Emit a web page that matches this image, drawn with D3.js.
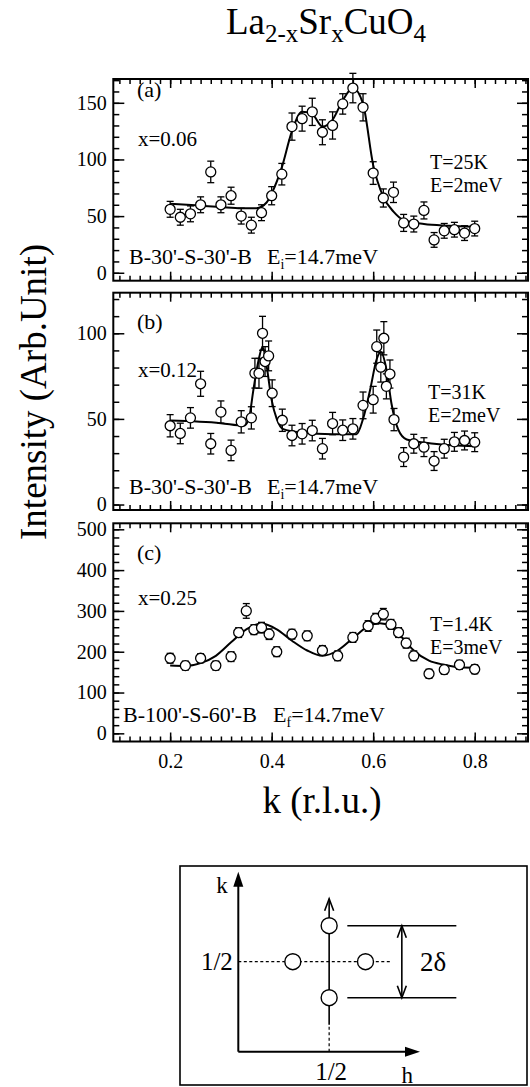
<!DOCTYPE html>
<html>
<head>
<meta charset="utf-8">
<script src="https://cdn.jsdelivr.net/npm/d3@7"></script>
<style>
  html, body { margin: 0; padding: 0; background: #fff; }
  svg { display: block; }
  text { font-family: "Liberation Serif", "Times New Roman", serif; fill: #000; }
</style>
</head>
<body>
<div id="chart"></div>
<script>
/* ── Data ─────────────────────────────────────────────────────────── */
const xTicks = [0.2, 0.4, 0.6, 0.8];

// (a) x=0.06
const kA   = [0.20,0.22,0.24,0.26,0.28,0.30,0.32,0.34,0.36,0.38,0.40,0.42,0.44,0.46,0.48,0.50,
              0.52,0.54,0.56,0.58,0.60,0.62,0.64,0.66,0.68,0.70,0.72,0.74,0.76,0.78,0.80];
const intA = [56,49,52,60,89,60,68,50,42,53,68,87,129,136,142,124,
              130,149,163,146,88,66,71,44,43,55,29,37,38,35,39];
const errA = [7,7,7,7,9.5,7,7.5,7,7,7,8,9.5,12,11,12,11,
              12,9,13,12,10,8,9,7.5,7,7.5,6.5,6.5,6.5,6.5,6.5];
const fitA = [[0.20,61],[0.25,59.5],[0.30,58],[0.34,57],[0.37,57],[0.39,62],[0.40,70],[0.42,93],
              [0.44,125],[0.46,142],[0.48,140],[0.50,129],[0.52,135],[0.54,152],[0.56,163],[0.58,149],
              [0.60,95],[0.62,67],[0.64,54],[0.66,46.5],[0.70,43],[0.75,41.5],[0.80,40.5]];
const yTicksA = [0, 50, 100, 150];

// (b) x=0.12
const kB   = [0.20,0.22,0.24,0.26,0.28,0.30,0.32,0.34,0.36,0.367,0.375,0.382,0.387,0.394,0.401,0.421,
              0.44,0.46,0.48,0.50,0.52,0.54,0.56,0.58,0.60,0.607,0.615,0.621,0.626,0.633,0.641,
              0.66,0.68,0.70,0.72,0.74,0.76,0.78,0.80];
const intB = [46,41.5,50.6,70.5,35.5,54,31.6,48.3,50.6,76.7,76.6,100,83.5,86.8,65,49.2,
              40.3,41.3,43.2,32.6,47.3,43.4,44.2,57.9,61.2,92.2,80.2,97.1,69,76.2,49.6,
              27.7,35.5,33.5,25.4,32.6,36.6,37.4,36.4];
const errB = [6.5,6,6,7.3,6,6.5,6,6.5,6.5,8.7,8.7,9.9,8.7,8.7,7.8,6.5,
              6,6,6,6,6.5,6,6,7.8,7.8,9.7,8.7,9.7,7.3,8.2,6.5,
              5.5,5.5,5.5,5.5,5.5,5.5,5.5,5.5];
const fitB = [[0.20,49],[0.30,47.5],[0.345,46],[0.355,50],[0.364,67],[0.374,84],[0.382,92],[0.390,81],
              [0.400,61],[0.410,50],[0.423,44],[0.46,42],[0.52,41],[0.567,41],[0.580,50],[0.594,67],
              [0.607,85],[0.615,89],[0.626,79],[0.636,59],[0.649,44],[0.666,38],[0.72,35.5],[0.80,34]];
const yTicksB = [0, 50, 100];

// (c) x=0.25
const kC   = [0.20,0.23,0.26,0.29,0.32,0.335,0.35,0.365,0.38,0.395,0.41,0.44,0.47,0.50,
              0.53,0.56,0.59,0.605,0.62,0.635,0.65,0.665,0.68,0.71,0.74,0.77,0.80];
const intC = [184,166,184,166,188,247,300,254,259,243,200,243,239,203,
              190,235,263,281,292,267,247,221,190,146,156,168,157];
const errC = [12,11,11,11,12,12,18,12,13,13,12,12,12,12,
              12,12,13,13,14,12,12,12,12,11,11,11,11];
const fitC = [[0.20,166],[0.23,165],[0.26,172],[0.29,190],[0.32,223],[0.35,255],[0.38,269],[0.41,255],
              [0.44,227],[0.47,203],[0.50,190],[0.53,203],[0.56,233],[0.59,262],[0.613,270],[0.635,262],
              [0.665,223],[0.68,203],[0.71,178],[0.74,168],[0.77,162],[0.80,161]];
const yTicksC = [0, 100, 200, 300, 400, 500];

// texts
const panelLabels  = ["(a)", "(b)", "(c)"];
const concLabels   = ["x=0.06", "x=0.12", "x=0.25"];
const tempLabels   = ["T=25K", "T=31K", "T=1.4K"];
const energyLabels = ["E=2meV", "E=2meV", "E=3meV"];
const configLabels = ["B-30'-S-30'-B", "B-30'-S-30'-B", "B-100'-S-60'-B"];
const eiSubs       = ["i", "i", "f"];
const eiValue      = "=14.7meV";

/* ── SVG & shared x scale ─────────────────────────────────────────── */
const W = 530, H = 1087;
const svg = d3.select("#chart").append("svg").attr("width", W).attr("height", H)
  .attr("font-family", '"Liberation Serif", "Times New Roman", serif');

const x = d3.scaleLinear().domain([0.088, 0.905]).range([113.3, 528]);
const xMinor = d3.range(0.10, 0.901, 0.02).map(v => +v.toFixed(2));

const panels = [
  { k: kA, v: intA, e: errA, fit: fitA, ticks: yTicksA, step: 10, dom: [-7, 171], top: 79, bottom: 280.7,
    pos: { label: [137, 97], conc: [138, 146], temp: [430, 169], energy: [430, 191.5], config: [129, 264], ei: 267 } },
  { k: kB, v: intB, e: errB, fit: fitB, ticks: yTicksB, step: 10, dom: [-3.2, 123.7], top: 292.7, bottom: 510,
    pos: { label: [137, 329], conc: [138, 377], temp: [428, 399], energy: [428, 421.5], config: [129, 494], ei: 267 } },
  { k: kC, v: intC, e: errC, fit: fitC, ticks: yTicksC, step: 20, dom: [-20, 514.7], top: 523.3, bottom: 741.5,
    pos: { label: [137, 560], conc: [138, 605], temp: [430, 631], energy: [430, 653.5], config: [123, 722], ei: 273 } }
];

function styleAxis(sel) {
  sel.attr("font-family", null);
  sel.select(".domain").remove();
  sel.selectAll(".tick line").attr("stroke", "#000").attr("stroke-width", 1.5);
  sel.selectAll(".tick text").attr("fill", "#000");
}

/* ── Panels ───────────────────────────────────────────────────────── */
panels.forEach((p, i) => {
  const y = d3.scaleLinear().domain(p.dom).range([p.bottom, p.top]);
  const g = svg.append("g");
  const yMinor = d3.range(0, p.dom[1], p.step);

  // minor + major ticks on all four sides, pointing inward
  [[d3.axisBottom, p.bottom], [d3.axisTop, p.top]].forEach(([ax, pos]) => {
    g.append("g").attr("transform", `translate(0,${pos})`)
      .call(ax(x).tickValues(xMinor).tickSize(-5).tickFormat("")).call(styleAxis);
    g.append("g").attr("transform", `translate(0,${pos})`)
      .call(ax(x).tickValues(xTicks).tickSize(-9).tickFormat("")).call(styleAxis);
  });
  [[d3.axisLeft, x.range()[0]], [d3.axisRight, x.range()[1]]].forEach(([ax, pos]) => {
    g.append("g").attr("transform", `translate(${pos},0)`)
      .call(ax(y).tickValues(yMinor).tickSize(-6).tickFormat("")).call(styleAxis);
  });
  g.append("g").attr("transform", `translate(${x.range()[0]},0)`)
    .call(d3.axisLeft(y).tickValues(p.ticks).tickSize(-11).tickPadding(6.5).tickFormat(d3.format("d")))
    .call(styleAxis)
    .call(s => s.selectAll(".tick text").style("font-size", "20px"));
  g.append("g").attr("transform", `translate(${x.range()[1]},0)`)
    .call(d3.axisRight(y).tickValues(p.ticks).tickSize(-11).tickFormat("")).call(styleAxis);

  if (i === panels.length - 1) {
    g.append("g").attr("transform", `translate(0,${p.bottom})`)
      .call(d3.axisBottom(x).tickValues(xTicks).tickSize(0).tickPadding(12.5).tickFormat(d3.format(".1f")))
      .call(styleAxis)
      .call(s => s.selectAll(".tick text").style("font-size", "20px"));
  }

  // frame
  g.append("rect")
    .attr("x", x.range()[0]).attr("y", p.top)
    .attr("width", x.range()[1] - x.range()[0]).attr("height", p.bottom - p.top)
    .attr("fill", "none").attr("stroke", "#000").attr("stroke-width", 2);

  // fit line
  g.append("path")
    .datum(p.fit)
    .attr("fill", "none").attr("stroke", "#000").attr("stroke-width", 2)
    .attr("d", d3.line().x(d => x(d[0])).y(d => y(d[1])).curve(d3.curveMonotoneX));

  // error bars
  const pts = p.k.map((k, j) => ({ k: k, v: p.v[j], e: p.e[j] }));
  const eb = g.append("g").attr("stroke", "#000").attr("stroke-width", 1.3);
  eb.selectAll("line.bar").data(pts).join("line").attr("class", "bar")
    .attr("x1", d => x(d.k)).attr("x2", d => x(d.k))
    .attr("y1", d => y(d.v - d.e)).attr("y2", d => y(d.v + d.e));
  eb.selectAll("line.capT").data(pts).join("line").attr("class", "capT")
    .attr("x1", d => x(d.k) - 3.5).attr("x2", d => x(d.k) + 3.5)
    .attr("y1", d => y(d.v + d.e)).attr("y2", d => y(d.v + d.e));
  eb.selectAll("line.capB").data(pts).join("line").attr("class", "capB")
    .attr("x1", d => x(d.k) - 3.5).attr("x2", d => x(d.k) + 3.5)
    .attr("y1", d => y(d.v - d.e)).attr("y2", d => y(d.v - d.e));

  // points
  g.selectAll("circle").data(pts).join("circle")
    .attr("cx", d => x(d.k)).attr("cy", d => y(d.v)).attr("r", 5)
    .attr("fill", "#fff").attr("stroke", "#000").attr("stroke-width", 1.3);

  // annotations
  const t = (xy, s, size) => g.append("text").attr("x", xy[0]).attr("y", xy[1])
    .style("font-size", size + "px").text(s);
  t(p.pos.label, panelLabels[i], 22);
  t(p.pos.conc, concLabels[i], 21);
  t(p.pos.temp, tempLabels[i], 20);
  t(p.pos.energy, energyLabels[i], 20);
  t(p.pos.config, configLabels[i], 22);
  const ei = g.append("text").attr("x", p.pos.ei).attr("y", p.pos.config[1]).style("font-size", "22px");
  ei.append("tspan").text("E");
  ei.append("tspan").attr("dy", 5).style("font-size", "14px").text(eiSubs[i]);
  ei.append("tspan").attr("dy", -5).text(eiValue);
});

/* ── Titles ───────────────────────────────────────────────────────── */
const title = svg.append("text").attr("x", 326).attr("y", 34).attr("text-anchor", "middle")
  .style("font-size", "37px");
[["La", 0], ["2-x", 1], ["Sr", 0], ["x", 1], ["CuO", 0], ["4", 1]].forEach(([s, sub], j, arr) => {
  const prev = j > 0 ? arr[j - 1][1] : 0;
  title.append("tspan").attr("dy", (sub - prev) * 8)
    .style("font-size", sub ? "25px" : "37px").text(s);
});

svg.append("text")
  .attr("transform", "translate(46,392) rotate(-90)")
  .attr("text-anchor", "middle").style("font-size", "37px")
  .text("Intensity (Arb.Unit)");

svg.append("text").attr("x", 322).attr("y", 813).attr("text-anchor", "middle")
  .style("font-size", "37px").text("k (r.l.u.)");

/* ── Inset: reciprocal-space sketch ───────────────────────────────── */
const half = 0.5, delta = 0.2;
const dh = d3.scaleLinear().domain([0, 1]).range([238.3, 420]);
const dk = d3.scaleLinear().domain([0, 1]).range([1051.7, 871.7]);
const ins = svg.append("g").attr("stroke", "#000").attr("fill", "none");

ins.append("rect").attr("x", 180).attr("y", 866).attr("width", 347).attr("height", 219)
  .attr("stroke-width", 1.6);

function filledArrow(xt, yt, dir) {
  // dir: "up" or "right"; tip at (xt, yt)
  const pts = dir === "up"
    ? [[xt, yt], [xt - 5, yt + 15], [xt + 5, yt + 15]]
    : [[xt, yt], [xt - 15, yt - 5], [xt - 15, yt + 5]];
  ins.append("path").attr("d", d3.line()(pts) + "Z").attr("fill", "#000").attr("stroke", "none");
}
function openArrow(xt, yt, sign) {
  // sign -1 points up, +1 points down
  ins.append("path")
    .attr("d", `M${xt - 4.5},${yt - sign * 12}L${xt},${yt}L${xt + 4.5},${yt - sign * 12}`)
    .attr("stroke-width", 1.6);
}

// axes
ins.append("line").attr("x1", dh(0)).attr("x2", dh(0)).attr("y1", dk(0)).attr("y2", dk(1) + 10)
  .attr("stroke-width", 2);
filledArrow(dh(0), dk(1), "up");
ins.append("line").attr("x1", dh(0)).attr("x2", dh(1) - 10).attr("y1", dk(0)).attr("y2", dk(0))
  .attr("stroke-width", 2);
filledArrow(dh(1), dk(0), "right");

// dotted guides through (1/2, 1/2)
ins.append("line").attr("x1", dh(0)).attr("x2", dh(0.84)).attr("y1", dk(half)).attr("y2", dk(half))
  .attr("stroke-width", 1.2).attr("stroke-dasharray", "3,2.5");
ins.append("line").attr("x1", dh(half)).attr("x2", dh(half)).attr("y1", dk(0)).attr("y2", dk(0.15))
  .attr("stroke-width", 1.2).attr("stroke-dasharray", "3,2.5");

// scan direction
ins.append("line").attr("x1", dh(half)).attr("x2", dh(half)).attr("y1", dk(0.15)).attr("y2", dk(0.85))
  .attr("stroke-width", 1.6);
openArrow(dh(half), dk(0.85), -1);

// incommensurate peaks
const peaks = [[half - delta, half], [half + delta, half], [half, half + delta], [half, half - delta]];
ins.selectAll("circle").data(peaks).join("circle")
  .attr("cx", d => dh(d[0])).attr("cy", d => dk(d[1])).attr("r", 8)
  .attr("fill", "#fff").attr("stroke-width", 1.4);

// 2δ marker
[half + delta, half - delta].forEach(kv => {
  ins.append("line").attr("x1", dh(0.6)).attr("x2", dh(1.2)).attr("y1", dk(kv)).attr("y2", dk(kv))
    .attr("stroke-width", 1.6);
});
ins.append("line").attr("x1", dh(0.9)).attr("x2", dh(0.9)).attr("y1", dk(half + delta)).attr("y2", dk(half - delta))
  .attr("stroke-width", 1.6);
openArrow(dh(0.9), dk(half + delta), -1);
openArrow(dh(0.9), dk(half - delta), 1);

const lab = (xv, yv, s, size, anchor) => svg.append("text").attr("x", xv).attr("y", yv)
  .attr("text-anchor", anchor || "start").style("font-size", size + "px").text(s);
lab(dh(-0.09), dk(0.88), "k", 23, "middle");
lab(dh(-0.03), dk(half) + 8, "1/2", 25, "end");
lab(dh(half) + 2, dk(0) + 28, "1/2", 25, "middle");
lab(dh(0.93), dk(0) + 31, "h", 23, "middle");
lab(dh(1.0), dk(half) + 9, "2δ", 27, "start");
</script>
</body>
</html>
